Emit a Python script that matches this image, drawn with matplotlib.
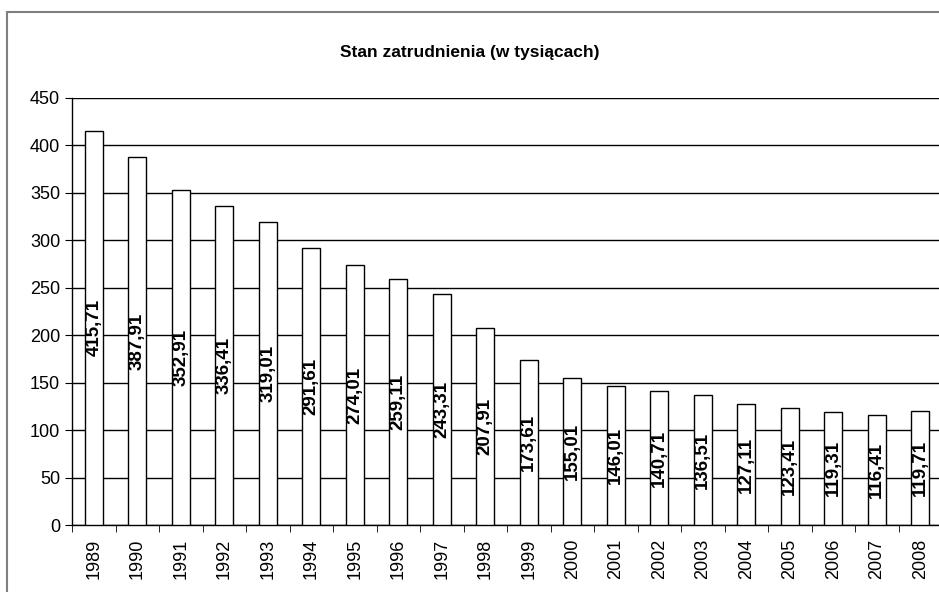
import matplotlib.pyplot as plt
from matplotlib.patches import Rectangle
import numpy as np

plt.rcParams['font.family'] = ['Liberation Sans', 'DejaVu Sans']

lata = ['1989', '1990', '1991', '1992', '1993', '1994', '1995', '1996', '1997', '1998',
        '1999', '2000', '2001', '2002', '2003', '2004', '2005', '2006', '2007', '2008']
zatrudnienie = [415.71, 387.91, 352.91, 336.41, 319.01, 291.61, 274.01, 259.11, 243.31, 207.91,
                173.61, 155.01, 146.01, 140.71, 136.51, 127.11, 123.41, 119.31, 116.41, 119.71]
etykiety = [f"{v:.2f}".replace('.', ',') for v in zatrudnienie]

fig = plt.figure(figsize=(9.39, 5.92), dpi=100)
ax = fig.add_axes([72/939, 1 - 525/592, 870/939, 427/592])

x = np.arange(len(lata))
ax.bar(x, zatrudnienie, width=0.42, color='white', edgecolor='black', linewidth=1, zorder=3)

for xi, v, t in zip(x, zatrudnienie, etykiety):
    ax.text(xi, v / 2, t, rotation=90, ha='center', va='center',
            fontsize=13.5, fontweight='bold', zorder=4)

ax.set_xlim(-0.5, len(lata) - 0.5)
ax.set_ylim(0, 450)
ax.set_yticks(range(0, 451, 50))
ax.yaxis.grid(True, color='black', linewidth=1)
ax.set_axisbelow(True)

ax.set_xticks(x)
ax.set_xticklabels(lata, rotation=90, fontsize=13)
ax.set_xticks(np.arange(-0.5, len(lata)), minor=True)
ax.tick_params(axis='x', which='major', length=0, pad=10)
ax.tick_params(axis='x', which='minor', length=5, direction='out', color='black')
ax.tick_params(axis='y', length=5, labelsize=13, color='black')

for s in ['top', 'right']:
    ax.spines[s].set_visible(False)
for s in ['left', 'bottom']:
    ax.spines[s].set_color('black')
    ax.spines[s].set_linewidth(1)

fig.text(0.5, 1 - 52/592, 'Stan zatrudnienia (w tysiącach)', ha='center', va='center',
         fontsize=12.5, fontweight='bold')

# ramka wykresu
fig.patches.append(Rectangle((7/939, -0.1), 1.1, 1 - 12/592 + 0.1, transform=fig.transFigure,
                             fill=False, edgecolor='#7f7f7f', linewidth=1.5))

plt.savefig('out.png', dpi=100)
